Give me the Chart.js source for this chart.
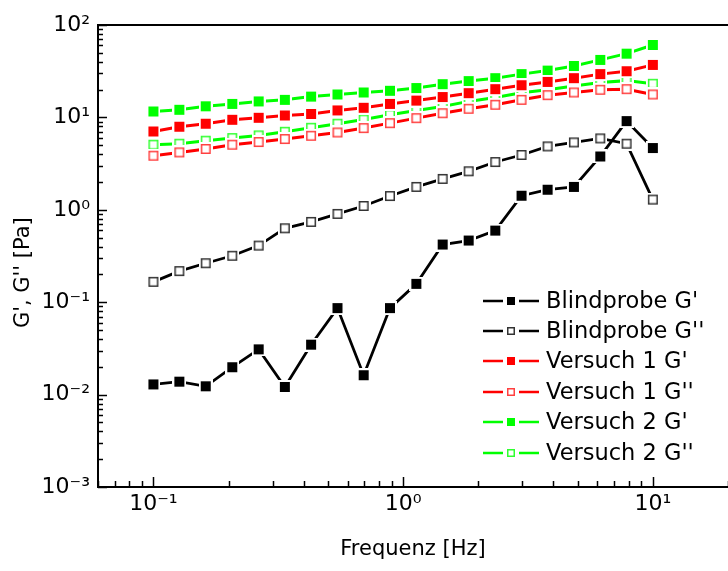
<!DOCTYPE html>
<html>
<head>
<meta charset="utf-8">
<script src="https://cdn.jsdelivr.net/npm/chart.js@4"></script>
<style>
  html, body { margin: 0; padding: 0; background: #fff; }
  canvas { display: block; }
</style>
</head>
<body>
<canvas id="rheoChart" width="728" height="571"></canvas>
<script>
// frequency sweep, 20 points log spaced 0.1 .. 10 Hz
var freq = [0.1, 0.127, 0.162, 0.207, 0.264, 0.336, 0.428, 0.546, 0.695, 0.886,
            1.13, 1.44, 1.83, 2.34, 2.98, 3.79, 4.83, 6.16, 7.85, 10];

var blindG1 = [0.0129, 0.0138, 0.0123, 0.0198, 0.0309, 0.0121, 0.0347, 0.0863, 0.0162, 0.0863,
               0.158, 0.421, 0.465, 0.596, 1.42, 1.65, 1.77, 3.78, 9.12, 4.66];
var blindG2 = [0.166, 0.217, 0.264, 0.318, 0.41, 0.631, 0.74, 0.903, 1.10, 1.41,
               1.77, 2.16, 2.61, 3.29, 3.92, 4.85, 5.36, 5.92, 5.19, 1.29];
var v1G1 = [7.04, 7.93, 8.54, 9.42, 9.9, 10.5, 10.9, 11.9, 12.7, 14.0,
            15.2, 16.6, 18.3, 20.2, 22.3, 24.2, 26.6, 29.4, 31.6, 37.0];
var v1G2 = [3.85, 4.18, 4.55, 5.06, 5.41, 5.83, 6.33, 6.87, 7.66, 8.67,
            9.82, 11.1, 12.4, 13.7, 15.5, 17.4, 18.6, 19.9, 20.2, 17.7];
var v2G1 = [11.6, 12.1, 13.2, 14.0, 14.9, 15.5, 16.8, 17.7, 18.6, 19.4,
            20.8, 22.9, 24.7, 26.6, 29.4, 32.1, 36.0, 41.9, 49.0, 60.8];
var v2G2 = [5.06, 5.19, 5.59, 5.97, 6.38, 6.99, 7.72, 8.54, 9.49, 10.7,
            11.9, 13.1, 14.9, 16.4, 18.5, 19.9, 21.9, 23.8, 25.0, 23.1];

var seriesNames = ["Blindprobe G'", "Blindprobe G''", "Versuch 1 G'", "Versuch 1 G''", "Versuch 2 G'", "Versuch 2 G''"];
var xTicks = [0.1, 1, 10];
var yTicks = [0.001, 0.01, 0.1, 1, 10, 100];

var FONT = "'DejaVu Sans', sans-serif";

// square marker with a white halo, like the gap Origin leaves round symbols
function makeMarker(color, filled, size, margin) {
    var c = document.createElement('canvas');
    var n = size + 2 * margin;
    c.width = n; c.height = n;
    var g = c.getContext('2d');
    g.fillStyle = '#fff';
    g.fillRect(0, 0, n, n);
    if (filled) {
        g.fillStyle = color;
        g.fillRect(margin, margin, size, size);
    } else {
        g.strokeStyle = color;
        g.lineWidth = 1.5;
        g.strokeRect(margin + 0.75, margin + 0.75, size - 1.5, size - 1.5);
    }
    return c;
}

function pts(ys) {
    return ys.map(function (y, i) { return {x: freq[i], y: y}; });
}

var colors = ['#000000', '#000000', '#ff0000', '#ff0000', '#00ff00', '#00ff00'];
var strokeCols = ['#000000', '#333333', '#ff0000', '#ff4040', '#00ff00', '#30ff30'];
var filled = [true, false, true, false, true, false];
var values = [blindG1, blindG2, v1G1, v1G2, v2G1, v2G2];

var datasets = values.map(function (v, i) {
    return {
        label: seriesNames[i],
        data: pts(v),
        borderColor: colors[i],
        borderWidth: i < 2 ? 2.8 : 3,
        pointStyle: makeMarker(strokeCols[i], filled[i], 10, 2),
        pointRadius: 7,
        pointHoverRadius: 7,
        fill: false,
        tension: 0
    };
});

function sup(v) {
    var e = Math.round(Math.log10(v));
    var map = {'-': '\u207B', '0': '\u2070', '1': '\u00B9', '2': '\u00B2', '3': '\u00B3'};
    return '10' + String(e).split('').map(function (c) { return map[c]; }).join('');
}

var frameAndTicks = {
    id: 'frameAndTicks',
    afterDraw: function (chart) {
        var ctx = chart.ctx, a = chart.chartArea;
        var xs = chart.scales.x, ys = chart.scales.y;
        ctx.save();
        ctx.strokeStyle = '#000';
        ctx.lineWidth = 2;
        ctx.beginPath();
        ctx.moveTo(a.left - 1, a.top);
        ctx.lineTo(a.right, a.top);
        ctx.stroke();
        ctx.lineWidth = 1.5;
        // x minor/major ticks pointing inward
        for (var d = -2; d <= 1; d++) {
            for (var m = 1; m <= 9; m++) {
                var v = m * Math.pow(10, d);
                if (v < xs.min || v > xs.max) continue;
                var px = Math.round(xs.getPixelForValue(v)) + 0.5;
                var len = m === 1 ? 10 : 6;
                ctx.beginPath();
                ctx.moveTo(px, a.bottom);
                ctx.lineTo(px, a.bottom - len);
                ctx.stroke();
            }
        }
        for (var d2 = -3; d2 <= 2; d2++) {
            for (var k = 1; k <= 9; k++) {
                var w = k * Math.pow(10, d2);
                if (w < ys.min || w > ys.max) continue;
                var py = Math.round(ys.getPixelForValue(w)) + 0.5;
                var l2 = k === 1 ? 9 : 5;
                ctx.beginPath();
                ctx.moveTo(a.left, py);
                ctx.lineTo(a.left + l2, py);
                ctx.stroke();
            }
        }
        ctx.restore();
    }
};

var legendBox = {
    id: 'legendBox',
    afterDraw: function (chart) {
        var ctx = chart.ctx;
        var rowY = [301, 331, 361, 392, 422, 453];
        ctx.save();
        ctx.font = '22.5px ' + FONT;
        ctx.textBaseline = 'middle';
        chart.data.datasets.forEach(function (ds, i) {
            var y = rowY[i];
            ctx.strokeStyle = ds.borderColor;
            ctx.lineWidth = 2.5;
            ctx.beginPath();
            ctx.moveTo(483, y); ctx.lineTo(503, y);
            ctx.moveTo(519, y); ctx.lineTo(539, y);
            ctx.stroke();
            var mk = makeMarker(strokeCols[i], filled[i], 8, 0);
            ctx.drawImage(mk, 507, y - 4);
            ctx.fillStyle = '#000';
            ctx.fillText(ds.label, 546, y + 1);
        });
        ctx.restore();
    }
};

var ctx = document.getElementById('rheoChart').getContext('2d');
var rheoChart = new Chart(ctx, {
    type: 'line',
    data: { datasets: datasets },
    options: {
        responsive: false,
        animation: false,
        layout: { autoPadding: false, padding: { top: 25, right: 0, left: 0, bottom: 0 } },
        plugins: {
            legend: { display: false },
            tooltip: { enabled: false }
        },
        scales: {
            x: {
                type: 'logarithmic',
                min: 0.06,
                max: 20,
                afterBuildTicks: function (s) { s.ticks = xTicks.map(function (v) { return {value: v}; }); },
                afterFit: function (s) { s.height = 84; s.paddingRight = 0; s.paddingLeft = 0; },
                ticks: {
                    callback: function (v) { return sup(v); },
                    font: { family: FONT, size: 22 },
                    color: '#000',
                    padding: 4,
                    maxRotation: 0,
                    autoSkip: false
                },
                grid: { display: false, drawTicks: false },
                border: { display: true, color: '#000', width: 2 },
                title: {
                    display: true,
                    text: 'Frequenz [Hz]',
                    font: { family: FONT, size: 21 },
                    color: '#000',
                    padding: { top: 0, bottom: 9 }
                }
            },
            y: {
                type: 'logarithmic',
                min: 0.001,
                max: 100,
                afterBuildTicks: function (s) { s.ticks = yTicks.map(function (v) { return {value: v}; }); },
                afterFit: function (s) { s.width = 98; s.paddingTop = 0; s.paddingBottom = 0; },
                ticks: {
                    callback: function (v) { return sup(v); },
                    font: { family: FONT, size: 22 },
                    color: '#000',
                    padding: 8,
                    autoSkip: false
                },
                grid: { display: false, drawTicks: false },
                border: { display: true, color: '#000', width: 2 },
                title: {
                    display: true,
                    text: "G', G'' [Pa]     ",
                    font: { family: FONT, size: 21 },
                    color: '#000',
                    padding: { top: 11, bottom: 0 }
                }
            }
        }
    },
    plugins: [frameAndTicks, legendBox]
});
</script>
</body>
</html>
